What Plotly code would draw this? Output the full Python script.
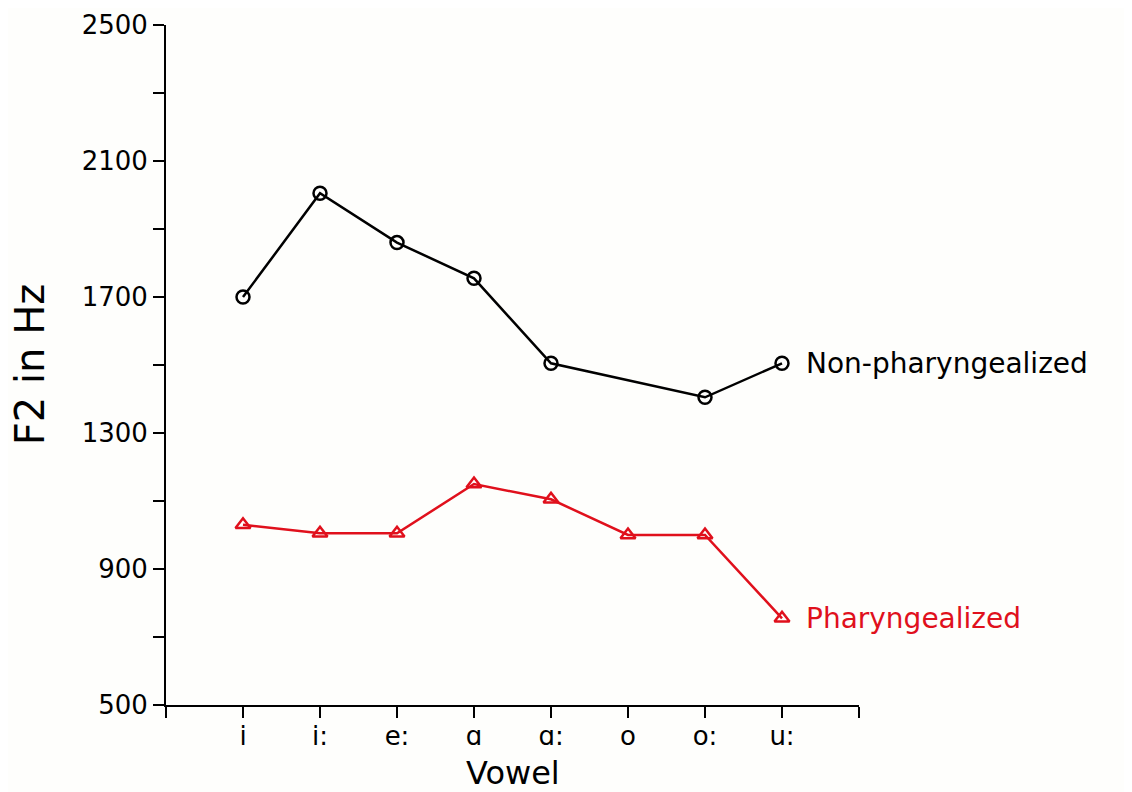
import plotly.graph_objects as go

# Vowel categories and F2 values (Hz)
vowels = ['i', 'i:', 'e:', 'ɑ', 'ɑ:', 'o', 'o:', 'u:']
nonPhar = [1700, 2005, 1860, 1755, 1505, None, 1405, 1505]
phar = [1030, 1005, 1005, 1150, 1105, 1000, 1000, 755]
yTicks = [500, 900, 1300, 1700, 2100, 2500]
yMinor = [700, 1100, 1500, 1900, 2300]

FONT = 'DejaVu Sans'
RED = '#e0101c'
pos = list(range(1, len(vowels) + 1))
###############################################################################
# Line plot
###############################################################################
fig = go.Figure()
fig.add_trace(
    go.Scatter(
        x=pos, y=nonPhar, mode='lines+markers', connectgaps=True,
        name='Non-pharyngealized', line={'color': 'black', 'width': 2.5},
        marker={'symbol': 'circle-open', 'size': 13, 'color': 'black',
                'line': {'width': 2.5}}
    )
)
fig.add_trace(
    go.Scatter(
        x=pos, y=phar, mode='lines+markers',
        name='Pharyngealized', line={'color': RED, 'width': 2.5},
        marker={'symbol': 'triangle-up-open', 'size': 13, 'color': RED,
                'line': {'width': 2.5}}
    )
)
# Series labels at the last point -----------------------------------------
for (yv, txt, col) in [(nonPhar[-1], 'Non-pharyngealized', 'black'),
                       (phar[-1], 'Pharyngealized', RED)]:
    fig.add_annotation(
        x=pos[-1], y=yv, text=txt, showarrow=False, xanchor='left',
        xshift=22, font={'family': FONT, 'size': 28, 'color': col}
    )
# Axis titles as paper annotations ----------------------------------------
fig.add_annotation(
    x=0.5, y=-0.1, xref='paper', yref='paper', text='Vowel',
    showarrow=False, xanchor='center', yanchor='middle',
    font={'family': FONT, 'size': 32, 'color': 'black'}
)
fig.add_annotation(
    x=-0.196, y=0.5, xref='paper', yref='paper', text='F2 in Hz',
    showarrow=False, xanchor='center', yanchor='middle', textangle=-90,
    font={'family': FONT, 'size': 40, 'color': 'black'}
)
# Axes --------------------------------------------------------------------
fig.update_xaxes(
    range=[0, len(vowels) + 1], tickmode='array', automargin=False,
    tickvals=list(range(0, len(vowels) + 2)),
    ticktext=[''] + vowels + [''], ticklabelstandoff=-4,
    ticks='outside', ticklen=11, tickwidth=2, tickcolor='black',
    showline=True, linecolor='black', linewidth=2, showgrid=False,
    zeroline=False, tickfont={'family': FONT, 'size': 26, 'color': 'black'}
)
fig.update_yaxes(
    range=[500, 2500], tickmode='array', tickvals=yTicks, automargin=False,
    ticks='outside', ticklen=11, tickwidth=2, tickcolor='black',
    minor={'tickmode': 'array', 'tickvals': yMinor, 'ticks': 'outside',
           'ticklen': 11, 'tickwidth': 2, 'tickcolor': 'black'},
    showline=True, linecolor='black', linewidth=2, showgrid=False,
    zeroline=False, tickfont={'family': FONT, 'size': 26, 'color': 'black'}
)
# page has an 8px body margin, so the figure starts at (8, 8)
fig.update_layout(
    width=1124, height=784, showlegend=False,
    margin={'l': 158, 'r': 273, 't': 17, 'b': 87},
    paper_bgcolor='#fefefc', plot_bgcolor='#fefefc'
)
fig.write_html('out.html')
